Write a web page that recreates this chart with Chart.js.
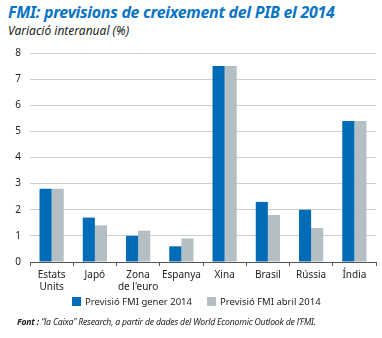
<!DOCTYPE html>
<html>
<head>
<meta charset="utf-8">
<script src="https://cdn.jsdelivr.net/npm/chart.js@4"></script>
<style>
  body { margin: 0; background: #fff; }
  #wrap { position: relative; width: 382px; height: 338px; font-family: "Noto Sans", sans-serif; }
  #title { position: absolute; left: 8px; top: 1px; font-size: 16px; font-weight: bold; font-style: italic; color: #0a74c4; letter-spacing: -0.3px; }
  #sub { position: absolute; left: 8px; top: 22px; font-size: 12px; font-style: italic; color: #222; }
  #foot { position: absolute; left: 17px; top: 316px; font-size: 8.7px; font-style: italic; color: #222; letter-spacing: -0.2px; }
  #box { position: absolute; left: 0; top: 0; width: 382px; height: 296px; }
  .leg { position: absolute; top: 295px; font-size: 9.5px; color: #222; }
  .leg i { position: absolute; left: 0; top: 2px; width: 9px; height: 9px; }
  .leg span { position: absolute; left: 13px; top: 0; white-space: nowrap; }
</style>
</head>
<body>
<div id="wrap">
  <div id="title">FMI: previsions de creixement del PIB el 2014</div>
  <div id="sub">Variació interanual (%)</div>
  <div id="box"><canvas id="chart"></canvas></div>
  <div id="legend"></div>
  <div id="foot"><b>Font :</b> “la Caixa” Research, a partir de dades del World Economic Outlook de l’FMI.</div>
</div>
<script>
// dades
const categories = [["Estats", "Units"], "Japó", ["Zona", "de l'euro"], "Espanya", "Xina", "Brasil", "Rússia", "Índia"];
const gener2014 = [2.8, 1.7, 1.0, 0.6, 7.5, 2.3, 2.0, 5.4];
const abril2014 = [2.8, 1.4, 1.2, 0.9, 7.5, 1.8, 1.3, 5.4];
const seriesNames = ["Previsió FMI gener 2014", "Previsió FMI abril 2014"];
const seriesColors = ["#006bb6", "#b3bfc3"];
const yTicks = [0, 1, 2, 3, 4, 5, 6, 7, 8];

// llegenda
const legendX = [72, 207];
const legend = document.getElementById("legend");
seriesNames.forEach((name, i) => {
  const d = document.createElement("div");
  d.className = "leg";
  d.style.left = legendX[i] + "px";
  d.innerHTML = `<i style="background:${seriesColors[i]}"></i><span>${name}</span>`;
  legend.appendChild(d);
});

new Chart(document.getElementById("chart"), {
  type: "bar",
  data: {
    labels: categories,
    datasets: [
      { label: seriesNames[0], data: gener2014, backgroundColor: seriesColors[0] },
      { label: seriesNames[1], data: abril2014, backgroundColor: seriesColors[1] }
    ]
  },
  options: {
    responsive: true,
    maintainAspectRatio: false,
    animation: false,
    layout: { padding: { top: 53, right: 6, left: 0, bottom: 0 } },
    datasets: { bar: { categoryPercentage: 0.56, barPercentage: 1.0 } },
    plugins: {
      legend: { display: false },
      tooltip: { enabled: false }
    },
    scales: {
      x: {
        offset: true,
        grid: { display: true, drawOnChartArea: false, drawTicks: true, tickLength: 4, color: "#555", offset: true },
        border: { display: true, color: "#555" },
        ticks: { color: "#222", font: { family: "Noto Sans", size: 10 }, padding: 3, maxRotation: 0, autoSkip: false }
      },
      y: {
        min: 0, max: 8,
        afterFit: s => { s.width = 30; },
        afterBuildTicks: s => { s.ticks = yTicks.map(v => ({ value: v })); },
        grid: { color: "#cfcfcf", drawTicks: false },
        border: { display: false },
        ticks: { color: "#222", font: { family: "Noto Sans", size: 10 }, padding: 9 }
      }
    }
  }
});
</script>
</body>
</html>
